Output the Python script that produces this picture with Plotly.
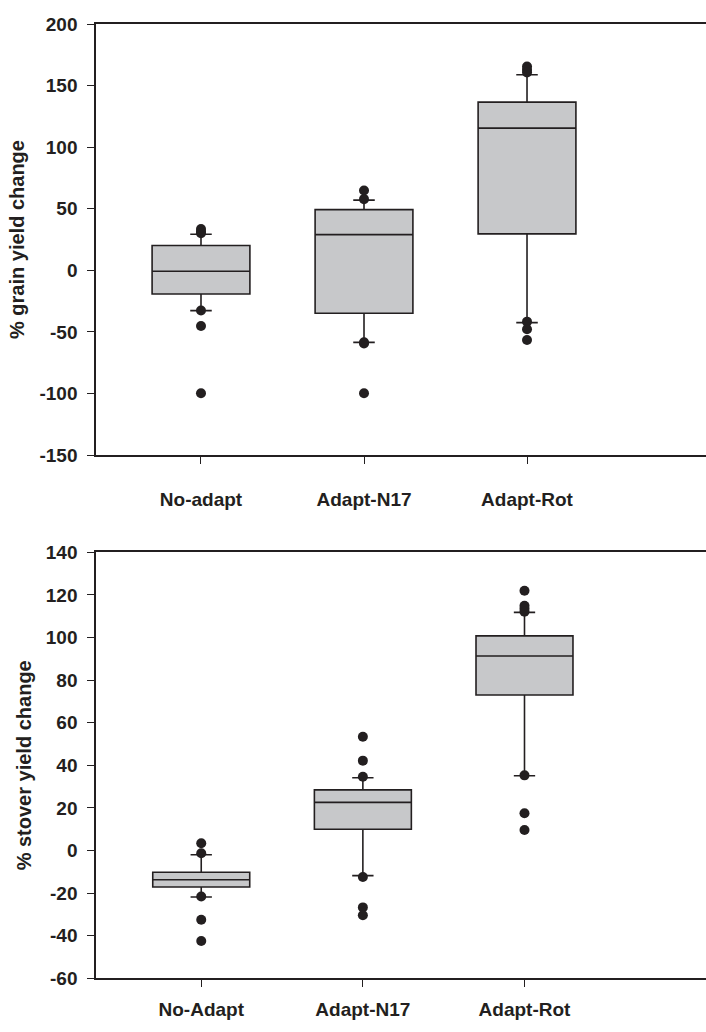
import plotly.graph_objects as go

# ---------------- data ----------------
grain_cats = ["No-adapt", "Adapt-N17", "Adapt-Rot"]
grain_q1 = [-19.2, -34.9, 29.6]
grain_median = [-0.7, 29.0, 115.5]
grain_q3 = [20.1, 49.3, 136.6]
grain_lower = [-32.7, -58.5, -42.5]
grain_upper = [29.3, 57.0, 158.8]
grain_out_cat = [0, 0, 0, 0, 0, 0, 1, 1, 1, 1, 1, 2, 2, 2, 2, 2, 2]
grain_out_val = [33.5, 31.4, 30.1, -32.7, -45.2, -99.9,
                 64.8, 57.8, -58.5, -59.5, -99.9,
                 165.5, 162.9, 160.7, -41.7, -47.9, -56.6]

stover_cats = ["No-Adapt", "Adapt-N17", "Adapt-Rot"]
stover_q1 = [-17.1, 10.0, 73.0]
stover_median = [-13.7, 22.6, 91.3]
stover_q3 = [-10.2, 28.5, 100.8]
stover_lower = [-21.8, -11.8, 35.1]
stover_upper = [-2.0, 34.2, 111.8]
stover_out_cat = [0, 0, 0, 0, 0, 1, 1, 1, 1, 1, 1, 2, 2, 2, 2, 2, 2, 2]
stover_out_val = [3.4, -1.3, -21.6, -32.5, -42.5,
                  53.4, 42.2, 34.6, -12.4, -26.7, -30.4,
                  122.0, 114.9, 113.5, 112.1, 35.3, 17.5, 9.6]

grain_ticks = [-150, -100, -50, 0, 50, 100, 150, 200]
grain_tick_text = ["-150", "-100", "-50", "0", "50", "100", "150", "200"]
stover_ticks = [-60, -40, -20, 0, 20, 40, 60, 80, 100, 120, 140]
stover_tick_text = ["-60", "-40", "-20", "0", "20", "40", "60", "80", "100", "120", "140"]

# ---------------- style ----------------
INK = "#231f20"
FILL = "#c7c8ca"
FONT = "Liberation Sans, Arial, sans-serif"

fig = go.Figure()

def add_panel(cats, q1, med, q3, lo, up, ocat, oval, xa, ya):
    pos = list(range(len(cats)))
    fig.add_trace(go.Box(
        x=pos, q1=q1, median=med, q3=q3, lowerfence=lo, upperfence=up,
        width=0.6, whiskerwidth=0.22, fillcolor=FILL,
        line=dict(color=INK, width=1.6), boxpoints=False,
        showlegend=False, xaxis=xa, yaxis=ya, hoverinfo="skip"))
    fig.add_trace(go.Scatter(
        x=ocat, y=oval, mode="markers",
        marker=dict(color=INK, size=10, line=dict(width=0)),
        showlegend=False, xaxis=xa, yaxis=ya, hoverinfo="skip"))

add_panel(grain_cats, grain_q1, grain_median, grain_q3, grain_lower, grain_upper,
          grain_out_cat, grain_out_val, "x", "y")
add_panel(stover_cats, stover_q1, stover_median, stover_q3, stover_lower, stover_upper,
          stover_out_cat, stover_out_val, "x2", "y2")

tfont = dict(family=FONT, size=19, color=INK, weight="bold")
title_font = dict(family=FONT, size=20, color=INK, weight="bold")
axis_common = dict(showline=True, linecolor=INK, linewidth=1.5, ticks="outside",
                   tickcolor=INK, ticklen=7, tickwidth=1.2, showgrid=False,
                   zeroline=False, automargin=False, tickfont=tfont)

fig.update_layout(
    template="none",
    width=706, height=1032,
    margin=dict(l=0, r=0, t=0, b=0, pad=0),
    paper_bgcolor="white", plot_bgcolor="white",
    font=dict(family=FONT, color=INK),
    xaxis=dict(axis_common, domain=[0.136, 1.0], range=[-0.644, 3.098],
               tickvals=[0, 1, 2], ticktext=grain_cats, mirror=True,
               ticklabelstandoff=19, anchor="y"),
    yaxis=dict(axis_common, domain=[0.5591, 0.9767], range=[-150, 200],
               tickvals=grain_ticks, ticktext=grain_tick_text,
               ticklabelstandoff=6, anchor="x",
               title=dict(text="% grain yield change", standoff=9, font=title_font)),
    xaxis2=dict(axis_common, domain=[0.136, 1.0], range=[-0.651, 3.123],
                tickvals=[0, 1, 2], ticktext=stover_cats, mirror=True,
                ticklabelstandoff=6, anchor="y2"),
    yaxis2=dict(axis_common, domain=[0.0520, 0.4648], range=[-60, 140],
                tickvals=stover_ticks, ticktext=stover_tick_text,
                ticklabelstandoff=6, anchor="x2",
                title=dict(text="% stover yield change", standoff=9, font=title_font)),
)

fig.write_html("out.html", config={"displayModeBar": False},
               post_script="document.body.style.margin='0';document.body.style.overflow='hidden';")
